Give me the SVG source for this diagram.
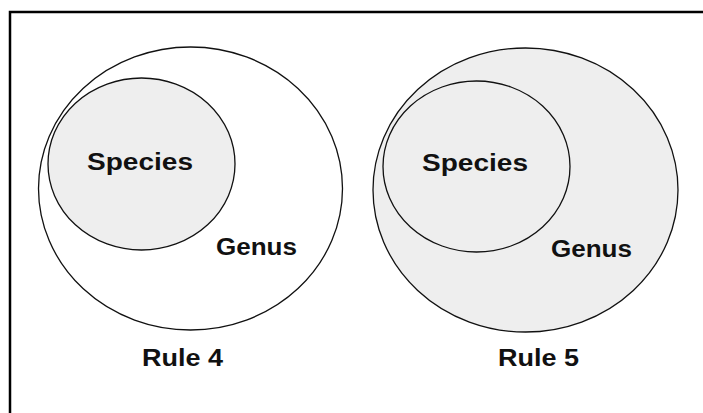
<svg xmlns="http://www.w3.org/2000/svg" width="703" height="413" viewBox="0 0 703 413">
  <style>
    .frame { fill: none; stroke: #000; stroke-width: 2.5; }
    .ring { stroke: #111; stroke-width: 1.3; }
    .hollow { fill: #ffffff; }
    .shaded { fill: #eeeeee; }
    .label { font-family: "Liberation Sans", Arial, sans-serif; font-weight: bold; font-size: 23px; fill: #111; }
  </style>
  <rect width="703" height="413" fill="#ffffff"/>
  <!-- frame: only top and left edges fall inside the canvas -->
  <g id="frame">
    <path class="frame" d="M10,413 V12 H703"/>
  </g>

  <!-- Rule 4: species shaded inside an unshaded genus -->
  <g id="rule4-genus">
    <ellipse class="ring hollow" cx="190.5" cy="188.5" rx="152" ry="141.5"/>
  </g>
  <g id="rule4-species">
    <ellipse class="ring shaded" cx="141.5" cy="164" rx="93.5" ry="86"/>
    <text class="label" x="87" y="170" textLength="106" lengthAdjust="spacingAndGlyphs">Species</text>
  </g>
  <text id="rule4-genus-label" class="label" x="216" y="255" textLength="81" lengthAdjust="spacingAndGlyphs">Genus</text>
  <text id="rule4-title" class="label" x="142" y="366" textLength="81" lengthAdjust="spacingAndGlyphs">Rule 4</text>

  <!-- Rule 5: the whole genus is shaded -->
  <g id="rule5-genus">
    <ellipse class="ring shaded" cx="525.5" cy="190" rx="152.5" ry="142"/>
  </g>
  <g id="rule5-species">
    <ellipse class="ring" fill="none" cx="476.5" cy="166.5" rx="93.5" ry="85.5"/>
    <text class="label" x="422" y="171" textLength="106" lengthAdjust="spacingAndGlyphs">Species</text>
  </g>
  <text id="rule5-genus-label" class="label" x="551" y="257" textLength="81" lengthAdjust="spacingAndGlyphs">Genus</text>
  <text id="rule5-title" class="label" x="498" y="366" textLength="81" lengthAdjust="spacingAndGlyphs">Rule 5</text>
</svg>
